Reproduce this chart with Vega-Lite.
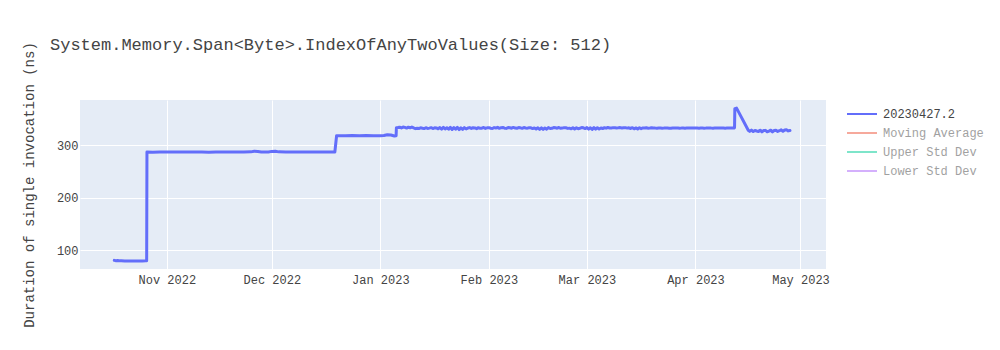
{
  "$schema": "https://vega.github.io/schema/vega-lite/v6.json",
  "width": 746,
  "height": 169,
  "autosize": {"type": "none"},
  "padding": {"left": 80, "top": 100, "right": 174, "bottom": 81},
  "background": "white",
  "title": {
    "text": "System.Memory.Span<Byte>.IndexOfAnyTwoValues(Size: 512)",
    "anchor": "start",
    "frame": "group",
    "dx": -30,
    "offset": -12,
    "font": "Liberation Mono",
    "fontSize": 17,
    "fontWeight": "normal",
    "color": "#444"
  },
  "config": {
    "view": {"fill": "#E5ECF6", "stroke": null},
    "axis": {
      "grid": true,
      "gridColor": "white",
      "gridWidth": 1,
      "domain": false,
      "ticks": false,
      "labelFont": "Liberation Mono",
      "labelFontSize": 12,
      "labelColor": "#444",
      "titleFont": "Liberation Mono",
      "titleFontSize": 14,
      "titleFontWeight": "normal",
      "titleColor": "#444"
    }
  },
  "data": {
    "values": [
      {"t": "2022-10-17T00:00", "v": 80.8},
      {"t": "2022-10-17T12:00", "v": 80.3},
      {"t": "2022-10-18T00:00", "v": 80.5},
      {"t": "2022-10-18T12:00", "v": 79.9},
      {"t": "2022-10-19T00:00", "v": 80.1},
      {"t": "2022-10-20T00:00", "v": 79.6},
      {"t": "2022-10-21T00:00", "v": 79.8},
      {"t": "2022-10-22T00:00", "v": 79.4},
      {"t": "2022-10-23T00:00", "v": 79.6},
      {"t": "2022-10-24T00:00", "v": 79.5},
      {"t": "2022-10-25T00:00", "v": 79.7},
      {"t": "2022-10-26T00:00", "v": 79.9},
      {"t": "2022-10-26T06:00", "v": 80.2},
      {"t": "2022-10-26T08:00", "v": 287.0},
      {"t": "2022-10-28T00:00", "v": 286.8},
      {"t": "2022-10-30T00:00", "v": 287.1},
      {"t": "2022-11-01T00:00", "v": 286.9},
      {"t": "2022-11-03T00:00", "v": 287.0},
      {"t": "2022-11-05T00:00", "v": 287.2},
      {"t": "2022-11-07T00:00", "v": 286.9},
      {"t": "2022-11-09T00:00", "v": 287.0},
      {"t": "2022-11-11T00:00", "v": 287.1},
      {"t": "2022-11-13T00:00", "v": 286.8},
      {"t": "2022-11-15T00:00", "v": 287.0},
      {"t": "2022-11-17T00:00", "v": 287.1},
      {"t": "2022-11-19T00:00", "v": 286.9},
      {"t": "2022-11-21T00:00", "v": 287.0},
      {"t": "2022-11-23T00:00", "v": 287.2},
      {"t": "2022-11-25T00:00", "v": 287.3},
      {"t": "2022-11-26T00:00", "v": 288.4},
      {"t": "2022-11-27T00:00", "v": 288.2},
      {"t": "2022-11-28T00:00", "v": 287.2},
      {"t": "2022-11-30T00:00", "v": 287.0},
      {"t": "2022-12-01T00:00", "v": 288.2},
      {"t": "2022-12-02T00:00", "v": 288.4},
      {"t": "2022-12-03T00:00", "v": 287.3},
      {"t": "2022-12-05T00:00", "v": 287.0},
      {"t": "2022-12-07T00:00", "v": 287.1},
      {"t": "2022-12-09T00:00", "v": 286.9},
      {"t": "2022-12-11T00:00", "v": 287.0},
      {"t": "2022-12-13T00:00", "v": 287.1},
      {"t": "2022-12-15T00:00", "v": 286.9},
      {"t": "2022-12-17T00:00", "v": 287.0},
      {"t": "2022-12-19T00:00", "v": 287.1},
      {"t": "2022-12-19T12:00", "v": 318.0},
      {"t": "2022-12-20T00:00", "v": 318.2},
      {"t": "2022-12-22T00:00", "v": 317.8},
      {"t": "2022-12-24T00:00", "v": 318.4},
      {"t": "2022-12-26T00:00", "v": 318.0},
      {"t": "2022-12-28T00:00", "v": 318.3},
      {"t": "2022-12-30T00:00", "v": 317.9},
      {"t": "2023-01-01T00:00", "v": 318.1},
      {"t": "2023-01-02T00:00", "v": 318.3},
      {"t": "2023-01-03T00:00", "v": 319.8},
      {"t": "2023-01-04T00:00", "v": 319.5},
      {"t": "2023-01-05T00:00", "v": 317.5},
      {"t": "2023-01-05T12:00", "v": 318.0},
      {"t": "2023-01-05T14:00", "v": 333.0},
      {"t": "2023-01-06T00:00", "v": 333.5},
      {"t": "2023-01-06T12:00", "v": 334.2},
      {"t": "2023-01-07T00:00", "v": 332.8},
      {"t": "2023-01-07T12:00", "v": 334.5},
      {"t": "2023-01-08T00:00", "v": 333.9},
      {"t": "2023-01-08T12:00", "v": 332.6},
      {"t": "2023-01-09T00:00", "v": 334.3},
      {"t": "2023-01-09T12:00", "v": 333.1},
      {"t": "2023-01-10T00:00", "v": 334.6},
      {"t": "2023-01-10T12:00", "v": 332.9},
      {"t": "2023-01-11T00:00", "v": 331.5},
      {"t": "2023-01-11T12:00", "v": 332.2},
      {"t": "2023-01-12T00:00", "v": 331.8},
      {"t": "2023-01-12T12:00", "v": 333.0},
      {"t": "2023-01-13T00:00", "v": 332.4},
      {"t": "2023-01-13T12:00", "v": 331.6},
      {"t": "2023-01-14T00:00", "v": 333.2},
      {"t": "2023-01-14T12:00", "v": 331.9},
      {"t": "2023-01-15T00:00", "v": 332.5},
      {"t": "2023-01-15T12:00", "v": 333.4},
      {"t": "2023-01-16T00:00", "v": 331.7},
      {"t": "2023-01-16T12:00", "v": 333.0},
      {"t": "2023-01-17T00:00", "v": 332.8},
      {"t": "2023-01-17T12:00", "v": 331.2},
      {"t": "2023-01-18T00:00", "v": 333.5},
      {"t": "2023-01-18T12:00", "v": 330.6},
      {"t": "2023-01-19T00:00", "v": 333.8},
      {"t": "2023-01-19T12:00", "v": 330.9},
      {"t": "2023-01-20T00:00", "v": 333.2},
      {"t": "2023-01-20T12:00", "v": 330.4},
      {"t": "2023-01-21T00:00", "v": 334.0},
      {"t": "2023-01-21T12:00", "v": 329.8},
      {"t": "2023-01-22T00:00", "v": 333.6},
      {"t": "2023-01-22T12:00", "v": 330.5},
      {"t": "2023-01-23T00:00", "v": 333.9},
      {"t": "2023-01-23T12:00", "v": 329.6},
      {"t": "2023-01-24T00:00", "v": 333.1},
      {"t": "2023-01-24T12:00", "v": 330.2},
      {"t": "2023-01-25T00:00", "v": 333.4},
      {"t": "2023-01-25T12:00", "v": 331.0},
      {"t": "2023-01-26T00:00", "v": 332.6},
      {"t": "2023-01-26T12:00", "v": 333.5},
      {"t": "2023-01-27T00:00", "v": 331.8},
      {"t": "2023-01-27T12:00", "v": 333.2},
      {"t": "2023-01-28T00:00", "v": 332.9},
      {"t": "2023-01-28T12:00", "v": 331.5},
      {"t": "2023-01-29T00:00", "v": 333.3},
      {"t": "2023-01-29T12:00", "v": 332.1},
      {"t": "2023-01-30T00:00", "v": 332.4},
      {"t": "2023-01-30T12:00", "v": 333.6},
      {"t": "2023-01-31T00:00", "v": 331.9},
      {"t": "2023-01-31T12:00", "v": 333.0},
      {"t": "2023-02-01T00:00", "v": 333.4},
      {"t": "2023-02-01T12:00", "v": 332.2},
      {"t": "2023-02-02T00:00", "v": 331.8},
      {"t": "2023-02-02T12:00", "v": 333.5},
      {"t": "2023-02-03T00:00", "v": 332.7},
      {"t": "2023-02-03T12:00", "v": 333.9},
      {"t": "2023-02-04T00:00", "v": 332.1},
      {"t": "2023-02-04T12:00", "v": 333.3},
      {"t": "2023-02-05T00:00", "v": 333.6},
      {"t": "2023-02-05T12:00", "v": 332.4},
      {"t": "2023-02-06T00:00", "v": 332.0},
      {"t": "2023-02-06T12:00", "v": 333.7},
      {"t": "2023-02-07T00:00", "v": 333.1},
      {"t": "2023-02-07T12:00", "v": 332.3},
      {"t": "2023-02-08T00:00", "v": 333.8},
      {"t": "2023-02-08T12:00", "v": 332.6},
      {"t": "2023-02-09T00:00", "v": 332.2},
      {"t": "2023-02-09T12:00", "v": 333.5},
      {"t": "2023-02-10T00:00", "v": 333.0},
      {"t": "2023-02-10T12:00", "v": 332.1},
      {"t": "2023-02-11T00:00", "v": 333.6},
      {"t": "2023-02-11T12:00", "v": 332.8},
      {"t": "2023-02-12T00:00", "v": 332.4},
      {"t": "2023-02-12T12:00", "v": 333.3},
      {"t": "2023-02-13T00:00", "v": 333.1},
      {"t": "2023-02-13T12:00", "v": 331.6},
      {"t": "2023-02-14T00:00", "v": 332.9},
      {"t": "2023-02-14T12:00", "v": 330.8},
      {"t": "2023-02-15T00:00", "v": 333.2},
      {"t": "2023-02-15T12:00", "v": 330.2},
      {"t": "2023-02-16T00:00", "v": 333.0},
      {"t": "2023-02-16T12:00", "v": 330.0},
      {"t": "2023-02-17T00:00", "v": 332.7},
      {"t": "2023-02-17T12:00", "v": 330.6},
      {"t": "2023-02-18T00:00", "v": 333.4},
      {"t": "2023-02-18T12:00", "v": 331.8},
      {"t": "2023-02-19T00:00", "v": 332.2},
      {"t": "2023-02-19T12:00", "v": 333.6},
      {"t": "2023-02-20T00:00", "v": 333.0},
      {"t": "2023-02-20T12:00", "v": 332.4},
      {"t": "2023-02-21T00:00", "v": 333.7},
      {"t": "2023-02-21T12:00", "v": 332.1},
      {"t": "2023-02-22T00:00", "v": 332.5},
      {"t": "2023-02-22T12:00", "v": 333.4},
      {"t": "2023-02-23T00:00", "v": 333.1},
      {"t": "2023-02-23T12:00", "v": 332.0},
      {"t": "2023-02-24T00:00", "v": 332.4},
      {"t": "2023-02-24T12:00", "v": 331.2},
      {"t": "2023-02-25T00:00", "v": 333.3},
      {"t": "2023-02-25T12:00", "v": 330.9},
      {"t": "2023-02-26T00:00", "v": 333.0},
      {"t": "2023-02-26T12:00", "v": 331.4},
      {"t": "2023-02-27T00:00", "v": 332.3},
      {"t": "2023-02-27T12:00", "v": 333.5},
      {"t": "2023-02-28T00:00", "v": 333.0},
      {"t": "2023-02-28T12:00", "v": 331.6},
      {"t": "2023-03-01T00:00", "v": 333.4},
      {"t": "2023-03-01T12:00", "v": 330.6},
      {"t": "2023-03-02T00:00", "v": 333.1},
      {"t": "2023-03-02T12:00", "v": 330.2},
      {"t": "2023-03-03T00:00", "v": 333.5},
      {"t": "2023-03-03T12:00", "v": 330.4},
      {"t": "2023-03-04T00:00", "v": 333.2},
      {"t": "2023-03-04T12:00", "v": 330.9},
      {"t": "2023-03-05T00:00", "v": 332.8},
      {"t": "2023-03-05T12:00", "v": 331.7},
      {"t": "2023-03-06T00:00", "v": 333.3},
      {"t": "2023-03-06T12:00", "v": 332.4},
      {"t": "2023-03-07T00:00", "v": 333.6},
      {"t": "2023-03-07T12:00", "v": 332.8},
      {"t": "2023-03-08T00:00", "v": 332.7},
      {"t": "2023-03-08T12:00", "v": 333.4},
      {"t": "2023-03-09T00:00", "v": 333.2},
      {"t": "2023-03-09T12:00", "v": 332.9},
      {"t": "2023-03-10T00:00", "v": 333.0},
      {"t": "2023-03-10T12:00", "v": 333.5},
      {"t": "2023-03-11T00:00", "v": 332.6},
      {"t": "2023-03-11T12:00", "v": 333.2},
      {"t": "2023-03-12T00:00", "v": 333.4},
      {"t": "2023-03-12T12:00", "v": 332.5},
      {"t": "2023-03-13T00:00", "v": 333.1},
      {"t": "2023-03-13T12:00", "v": 331.8},
      {"t": "2023-03-14T00:00", "v": 333.3},
      {"t": "2023-03-14T12:00", "v": 331.2},
      {"t": "2023-03-15T00:00", "v": 332.9},
      {"t": "2023-03-15T12:00", "v": 331.0},
      {"t": "2023-03-16T00:00", "v": 333.2},
      {"t": "2023-03-16T12:00", "v": 331.5},
      {"t": "2023-03-17T00:00", "v": 332.8},
      {"t": "2023-03-17T12:00", "v": 332.6},
      {"t": "2023-03-18T00:00", "v": 333.0},
      {"t": "2023-03-18T12:00", "v": 332.4},
      {"t": "2023-03-19T00:00", "v": 332.6},
      {"t": "2023-03-19T12:00", "v": 333.1},
      {"t": "2023-03-20T00:00", "v": 332.9},
      {"t": "2023-03-20T12:00", "v": 332.5},
      {"t": "2023-03-21T00:00", "v": 332.4},
      {"t": "2023-03-21T12:00", "v": 332.8},
      {"t": "2023-03-22T00:00", "v": 332.7},
      {"t": "2023-03-22T12:00", "v": 332.3},
      {"t": "2023-03-23T00:00", "v": 332.5},
      {"t": "2023-03-23T12:00", "v": 332.9},
      {"t": "2023-03-24T00:00", "v": 332.8},
      {"t": "2023-03-24T12:00", "v": 332.4},
      {"t": "2023-03-25T00:00", "v": 332.3},
      {"t": "2023-03-25T12:00", "v": 332.7},
      {"t": "2023-03-26T00:00", "v": 332.6},
      {"t": "2023-03-26T12:00", "v": 332.5},
      {"t": "2023-03-27T00:00", "v": 332.9},
      {"t": "2023-03-27T12:00", "v": 332.4},
      {"t": "2023-03-28T00:00", "v": 332.5},
      {"t": "2023-03-28T12:00", "v": 332.8},
      {"t": "2023-03-29T00:00", "v": 332.4},
      {"t": "2023-03-29T12:00", "v": 332.6},
      {"t": "2023-03-30T00:00", "v": 332.7},
      {"t": "2023-03-30T12:00", "v": 332.5},
      {"t": "2023-03-31T00:00", "v": 332.5},
      {"t": "2023-03-31T12:00", "v": 332.9},
      {"t": "2023-04-01T00:00", "v": 332.8},
      {"t": "2023-04-01T12:00", "v": 332.6},
      {"t": "2023-04-02T00:00", "v": 332.4},
      {"t": "2023-04-02T12:00", "v": 332.7},
      {"t": "2023-04-03T00:00", "v": 332.6},
      {"t": "2023-04-03T12:00", "v": 332.4},
      {"t": "2023-04-04T00:00", "v": 332.5},
      {"t": "2023-04-04T12:00", "v": 332.8},
      {"t": "2023-04-05T00:00", "v": 332.7},
      {"t": "2023-04-05T12:00", "v": 332.5},
      {"t": "2023-04-06T00:00", "v": 332.4},
      {"t": "2023-04-06T12:00", "v": 332.6},
      {"t": "2023-04-07T00:00", "v": 332.6},
      {"t": "2023-04-07T12:00", "v": 332.5},
      {"t": "2023-04-08T00:00", "v": 332.5},
      {"t": "2023-04-08T12:00", "v": 332.7},
      {"t": "2023-04-09T00:00", "v": 332.7},
      {"t": "2023-04-09T12:00", "v": 332.4},
      {"t": "2023-04-10T00:00", "v": 332.5},
      {"t": "2023-04-10T12:00", "v": 332.6},
      {"t": "2023-04-11T00:00", "v": 332.6},
      {"t": "2023-04-11T12:00", "v": 332.5},
      {"t": "2023-04-12T00:00", "v": 332.6},
      {"t": "2023-04-12T04:00", "v": 333.0},
      {"t": "2023-04-12T06:00", "v": 369.5},
      {"t": "2023-04-12T18:00", "v": 370.5},
      {"t": "2023-04-16T02:00", "v": 328.4},
      {"t": "2023-04-16T12:00", "v": 326.2},
      {"t": "2023-04-17T00:00", "v": 328.8},
      {"t": "2023-04-17T12:00", "v": 325.9},
      {"t": "2023-04-18T00:00", "v": 328.1},
      {"t": "2023-04-18T12:00", "v": 327.0},
      {"t": "2023-04-19T00:00", "v": 326.0},
      {"t": "2023-04-19T12:00", "v": 328.5},
      {"t": "2023-04-20T00:00", "v": 325.4},
      {"t": "2023-04-20T12:00", "v": 327.8},
      {"t": "2023-04-21T00:00", "v": 328.2},
      {"t": "2023-04-21T12:00", "v": 325.6},
      {"t": "2023-04-22T00:00", "v": 326.8},
      {"t": "2023-04-22T12:00", "v": 328.6},
      {"t": "2023-04-23T00:00", "v": 325.3},
      {"t": "2023-04-23T12:00", "v": 327.9},
      {"t": "2023-04-24T00:00", "v": 328.4},
      {"t": "2023-04-24T12:00", "v": 326.1},
      {"t": "2023-04-25T00:00", "v": 327.5},
      {"t": "2023-04-25T12:00", "v": 329.2},
      {"t": "2023-04-26T00:00", "v": 326.4},
      {"t": "2023-04-26T12:00", "v": 328.9},
      {"t": "2023-04-27T00:00", "v": 329.3},
      {"t": "2023-04-27T12:00", "v": 327.2},
      {"t": "2023-04-28T00:00", "v": 328.0}
    ]
  },
  "mark": {"type": "line", "strokeWidth": 3, "strokeJoin": "round", "strokeCap": "round"},
  "encoding": {
    "x": {
      "field": "t",
      "type": "temporal",
      "scale": {"domain": ["2022-10-07T05:00", "2023-05-08T07:00"]},
      "axis": {
        "title": null,
        "format": "%b %Y",
        "tickCount": {"interval": "month", "step": 1},
        "labelPadding": 5,
        "labelFlush": false,
        "labelOverlap": false
      }
    },
    "y": {
      "field": "v",
      "type": "quantitative",
      "scale": {"domain": [64.4, 386], "nice": false, "zero": false},
      "axis": {
        "title": "Duration of single invocation (ns)",
        "values": [100, 200, 300],
        "labelPadding": 2,
        "titlePadding": 20
      }
    },
    "color": {
      "datum": "20230427.2",
      "type": "nominal",
      "scale": {
        "domain": ["20230427.2", "Moving Average", "Upper Std Dev", "Lower Std Dev"],
        "range": ["#636efa", "#EF553B", "#00cc96", "#ab63fa"]
      },
      "legend": {
        "title": null,
        "orient": "none",
        "legendX": 766,
        "legendY": 7,
        "symbolType": "stroke",
        "symbolSize": 900,
        "symbolStrokeWidth": 2,
        "clipHeight": 14,
        "rowPadding": 5,
        "labelFont": "Liberation Mono",
        "labelFontSize": 12,
        "labelColor": "#444",
        "labelOffset": 5,
        "encode": {
          "symbols": {"update": {"opacity": {"signal": "datum.value === '20230427.2' ? 1 : 0.5"}}},
          "labels": {"update": {"opacity": {"signal": "datum.value === '20230427.2' ? 1 : 0.5"}}}
        }
      }
    }
  }
}
